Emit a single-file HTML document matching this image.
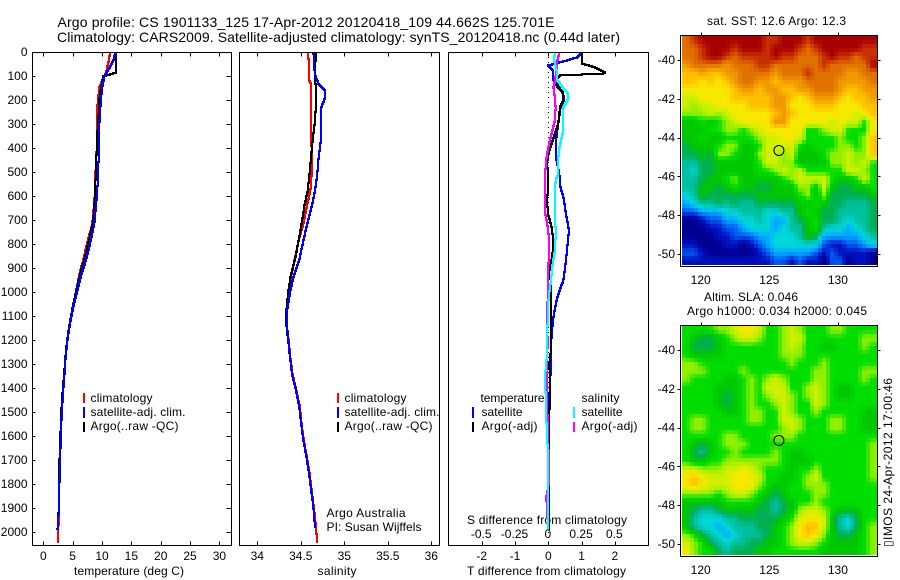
<!DOCTYPE html>
<html>
<head>
<meta charset="utf-8">
<title>Argo profile</title>
<style>
html,body{margin:0;padding:0;background:#fff;}
svg{display:block;}
text{font-family:"Liberation Sans",sans-serif;font-size:12px;fill:#000;}
.title{font-size:14px;}
</style>
</head>
<body>
<svg id="chart" xmlns="http://www.w3.org/2000/svg" width="900" height="580" viewBox="0 0 900 580">
<rect x="0" y="0" width="900" height="580" fill="#fff"/>
<text class="title" x="57.5" y="27" textLength="497" lengthAdjust="spacing">Argo profile: CS 1901133_125 17-Apr-2012 20120418_109 44.662S 125.701E</text>
<text class="title" x="57" y="42" textLength="563" lengthAdjust="spacing">Climatology: CARS2009. Satellite-adjusted climatology: synTS_20120418.nc (0.44d later)</text>

<text x="129" y="575" text-anchor="middle" textLength="110" lengthAdjust="spacing">temperature (deg C)</text>
<text x="337" y="575" text-anchor="middle" textLength="39" lengthAdjust="spacing">salinity</text>
<text x="467" y="575" textLength="159" lengthAdjust="spacing">T difference from climatology</text>
<text x="467" y="524" textLength="160" lengthAdjust="spacing">S difference from climatology</text>

<g>
<rect x="83" y="393" width="2" height="10" fill="#f00"/>
<rect x="83" y="407" width="2" height="11" fill="#00f"/>
<rect x="83" y="422" width="2" height="10" fill="#000"/>
<text x="90.5" y="402" textLength="62" lengthAdjust="spacing">climatology</text>
<text x="90.5" y="416" textLength="95" lengthAdjust="spacing">satellite-adj. clim.</text>
<text x="90.5" y="430" textLength="88" lengthAdjust="spacing">Argo(..raw -QC)</text>
</g>
<g>
<rect x="337" y="393" width="2" height="10" fill="#f00"/>
<rect x="337" y="407" width="2" height="11" fill="#00f"/>
<rect x="337" y="422" width="2" height="10" fill="#000"/>
<text x="344.5" y="402" textLength="62" lengthAdjust="spacing">climatology</text>
<text x="344.5" y="416" textLength="95" lengthAdjust="spacing">satellite-adj. clim.</text>
<text x="344.5" y="430" textLength="88" lengthAdjust="spacing">Argo(..raw -QC)</text>
</g>
<text x="326.5" y="517" textLength="79" lengthAdjust="spacing">Argo Australia</text>
<text x="326.5" y="531" textLength="95" lengthAdjust="spacing">PI: Susan Wijffels</text>

<text x="707" y="25" textLength="139" lengthAdjust="spacing">sat. SST: 12.6 Argo: 12.3</text>
<text x="704" y="301" textLength="94" lengthAdjust="spacing">Altim. SLA: 0.046</text>
<text x="687" y="315" textLength="180" lengthAdjust="spacing">Argo h1000: 0.034 h2000: 0.045</text>
<text transform="translate(892,547) rotate(-90)" x="0" y="0" textLength="169" lengthAdjust="spacing">▯IMOS 24-Apr-2012 17:00:46</text>

<g id="layer"></g>

<g>
<text x="480.5" y="402" textLength="64" lengthAdjust="spacing">temperature</text>
<rect x="472" y="407" width="2" height="11" fill="#00f"/>
<rect x="472" y="422" width="2" height="10" fill="#000"/>
<text x="481.5" y="416" textLength="41" lengthAdjust="spacing">satellite</text>
<text x="481.5" y="430" textLength="56" lengthAdjust="spacing">Argo(-adj)</text>
<text x="581.5" y="402" textLength="38" lengthAdjust="spacing">salinity</text>
<rect x="573" y="407" width="2" height="11" fill="#0ff"/>
<rect x="573" y="422" width="2" height="10" fill="#f0f"/>
<text x="581.5" y="416" textLength="41" lengthAdjust="spacing">satellite</text>
<text x="581.5" y="430" textLength="56" lengthAdjust="spacing">Argo(-adj)</text>
</g>
</svg>
<script>
/* ---------- axis tick values ---------- */
var depthTicks = [0,100,200,300,400,500,600,700,800,900,1000,1100,1200,1300,1400,1500,1600,1700,1800,1900,2000];
var tempTicks = [0,5,10,15,20,25,30];
var salTicks = [34,34.5,35,35.5,36];
var tDiffTicks = [-2,-1,0,1,2];
var sDiffTicks = [-0.5,-0.25,0,0.25,0.5];
var sDiffTickLabels = ["-0.5","-0.25","0","0.25","0.5"];
var lonTicks = [120,125,130];
var latTicks = [-40,-42,-44,-46,-48,-50];
var argoLon = 125.701;
var argoLat = -44.662;

/* ---------- temperature panel ---------- */
var tempClimDepth = [0,30,82,123,150,230,400,533,600,713,783,853,922,992,1061,1131,1200,1270,1340,1410,1500,1600,1700,1800,1900,2000,2045];
var tempClimValue = [11.36,11.2,10.7,9.9,9.5,9.2,9.1,8.8,8.75,8.35,7.6,6.9,6.2,5.6,5,4.5,4.05,3.75,3.55,3.35,3.05,2.9,2.8,2.7,2.67,2.55,2.55];
var tempSatDepth = [0,30,50,100,150,200,300,400,575,713,783,853,922,992,1061,1131,1200,1270,1340,1410,1500,1600,1700,1800,1900,1990];
var tempSatValue = [12.3,12,11.6,10.4,10,9.8,9.55,9.5,9.2,8.7,8.07,7.4,6.55,5.8,5.1,4.55,4.1,3.8,3.6,3.4,3.15,3,2.85,2.75,2.67,2.4];
var tempArgoDepth = [0,82,102,180,340,617,713,783,853,922,992,1061,1131,1200,1270,1340,1410,1500,1600,1700,1800,1900,1990];
var tempArgoValue = [12.45,12.45,10.2,9.6,9.2,8.75,8.45,7.75,7.1,6.3,5.65,5,4.5,4.05,3.75,3.55,3.3,3.05,2.9,2.75,2.65,2.6,2.55];

/* ---------- salinity panel ---------- */
var salClimDepth = [0,117,129,367,437,504,575,642,713,783,861,930,1000,1069,1139,1200,1270,1340,1410,1480,1550,1617,1690,1755,1825,1895,1963,2045];
var salClimValue = [34.587,34.594,34.617,34.62,34.63,34.625,34.61,34.568,34.53,34.475,34.43,34.39,34.365,34.345,34.34,34.36,34.38,34.405,34.45,34.49,34.51,34.535,34.572,34.6,34.625,34.65,34.67,34.69];
var salSatDepth = [0,89,129,158,192,229,367,437,504,575,642,713,783,861,930,1000,1069,1139,1200,1270,1340,1410,1480,1550,1617,1690,1755,1825,1895,1985];
var salSatValue = [34.645,34.66,34.7,34.775,34.775,34.736,34.73,34.705,34.69,34.663,34.625,34.575,34.53,34.483,34.42,34.376,34.345,34.34,34.357,34.376,34.4,34.445,34.483,34.506,34.53,34.568,34.594,34.62,34.645,34.665];
var salArgoDepth = [0,89,158,192,296,367,504,575,642,713,783,861,930,1000,1069,1139,1200,1270,1340,1410,1480,1550,1617,1690,1755,1825,1895,1985];
var salArgoValue = [34.675,34.66,34.675,34.68,34.66,34.636,34.6,34.58,34.54,34.51,34.475,34.433,34.384,34.355,34.335,34.335,34.355,34.376,34.4,34.445,34.483,34.506,34.53,34.568,34.594,34.62,34.645,34.665];

/* ---------- difference panel ---------- */
var diffTSatDepth = [5,19,33,47,54,75,103,130,172,200,228,297,367,436,505,567,602,672,742,811,880,950,980,1019,1089,1158,1228,1297,1367,1436,1506,1575,1644,1990];
var diffTSatValue = [1,0.85,0.55,0.2,0,0.15,0.13,0.2,0.45,0.47,0.37,0.3,0.23,0.23,0.33,0.37,0.45,0.53,0.62,0.57,0.52,0.45,0.37,0.27,0.17,0.11,0.08,0.08,0.06,0.03,0,0.01,0.01,0.01];
var diffTArgoDepth = [5,33,47,61,82,89,96,117,140,172,200,228,297,339,367,410,450,505,567,602,672,700,742,811,880,920,950,1089,1158,1228,1297,1367,1436,1506,1990];
var diffTArgoValue = [1,1,1.02,1.4,1.7,1.65,0.35,0.2,0.3,0.45,0.45,0.35,0.3,0.2,0.13,0.03,-0.03,-0.02,0,-0.03,-0.02,0.05,0.12,0.15,0.08,0.01,0.08,0.08,0.09,0.09,0.03,0.05,0.05,0.03,0.03];
var diffSSatDepth = [0,33,75,117,151,172,192,228,297,339,395,436,505,533,602,672,742,811,880,950,1019,1089,1228,1297,1367,1436,1506,1575,1644,1783,1790,1853,1922,1992];
var diffSSatValue = [0.05,0.043,0.063,0.068,0.113,0.15,0.15,0.113,0.113,0.108,0.083,0.075,0.075,0.055,0.048,0.05,0.055,0.053,0.033,0.02,0.003,-0.005,-0.008,-0.015,-0.028,-0.018,-0.018,-0.01,-0.005,-0.005,0,0,-0.005,-0.005];
var diffSArgoDepth = [0,33,75,117,145,186,228,283,339,395,436,470,533,602,672,700,742,811,865,920,1019,1089,1200,1436,1575,1644,1700,1783,1853,1990];
var diffSArgoValue = [0.083,0.068,0.063,0.05,0.038,0.05,0.055,0.05,0.025,0,-0.013,-0.02,-0.025,-0.023,-0.023,-0.013,0,0.008,0.003,-0.005,-0.003,-0.013,-0.005,-0.013,0,0,0.008,0.008,-0.015,0];

/* ---------- map fields (colour-level per grid node, north to south) ---------- */
var sstLevels = [
[14,15,16,16,16,16,16,16,16,16,15,15,16,16,16,15,16,16,16,16,16,16,16,16],
[14,14,15,16,16,16,15,16,16,16,15,16,16,16,15,14,15,16,16,16,16,16,15,15],
[14,14,15,16,16,15,14,15,15,15,15,16,15,15,14,14,14,15,16,15,15,14,15,15],
[13,14,14,14,14,13,14,14,14,15,15,14,14,14,14,14,14,15,14,14,14,14,14,16],
[12,12,13,12,12,13,13,14,14,14,14,13,14,14,14,15,14,14,14,14,13,13,14,14],
[12,12,11,12,11,12,13,14,14,13,13,12,13,13,13,14,14,14,14,13,13,13,13,14],
[11,11,11,11,11,11,12,13,13,12,13,13,12,12,13,13,14,14,14,13,12,12,13,13],
[10,10,11,11,11,11,12,12,12,12,12,13,13,12,11,12,13,13,13,12,11,12,12,13],
[10,9,10,10,11,11,11,11,12,12,12,13,13,11,11,11,12,12,12,11,11,11,12,12],
[9,9,9,10,9,10,11,11,11,11,11,12,13,12,11,11,11,11,11,11,11,10,11,12],
[7,7,8,7,8,9,10,11,11,11,11,13,13,11,11,11,11,11,10,11,10,10,8,11],
[7,7,7,8,8,9,9,8,9,10,11,11,11,11,11,8,8,9,10,10,8,8,8,11],
[7,7,8,7,7,8,8,8,8,9,10,10,11,11,10,8,8,8,8,9,8,8,9,12],
[6,7,7,7,8,9,9,7,7,8,10,10,10,10,8,7,8,8,8,9,9,8,9,12],
[6,6,7,6,9,9,8,7,7,9,10,10,9,10,7,7,7,8,9,9,10,9,9,12],
[5,5,6,6,7,7,7,7,7,8,10,10,9,9,7,7,7,7,9,9,10,9,10,8],
[5,4,6,6,7,7,7,7,7,8,8,9,10,9,10,8,8,8,8,8,10,10,9,8],
[5,5,6,7,7,8,9,7,7,7,7,7,8,9,10,10,10,10,8,7,7,8,10,8],
[5,5,7,7,6,7,8,7,7,6,6,7,7,7,9,9,7,10,7,6,6,7,7,8],
[4,5,7,6,6,6,6,6,6,7,7,7,7,7,8,9,7,9,6,6,6,6,6,7],
[3,4,5,5,6,5,6,5,5,6,6,6,6,6,7,7,8,7,6,6,5,5,5,6],
[2,2,3,3,3,4,4,5,5,5,4,4,5,5,7,8,7,6,6,5,5,5,5,6],
[0,0,1,2,2,3,3,4,4,5,4,3,3,5,6,7,8,6,6,5,4,5,5,6],
[0,0,0,1,1,2,2,3,4,4,4,3,4,5,5,7,8,5,4,4,3,4,5,6],
[0,0,0,0,1,1,2,2,2,3,3,4,4,4,5,7,6,3,3,3,3,3,4,5],
[1,1,0,0,0,1,1,0,1,2,3,4,4,4,4,4,4,2,1,1,2,2,3,4],
[2,2,1,0,0,0,0,0,0,1,2,3,3,3,3,3,2,1,2,1,1,1,1,0],
[1,1,1,1,1,1,1,1,1,1,1,2,2,1,2,1,1,0,2,2,0,1,1,0]
];
var slaLevels = [
[8,8,8,8,9,9,10,11,11,10,8,8,9,10,9,8,8,8,9,9,8,8,8,8],
[8,7,6,6,7,8,9,10,10,9,8,8,9,10,10,8,8,8,8,8,8,8,9,9],
[8,6,6,6,7,8,8,8,8,8,8,8,9,10,9,8,8,7,7,8,8,8,9,8],
[8,7,7,7,7,8,8,8,8,8,8,8,9,9,9,8,8,8,8,8,8,8,8,8],
[9,9,8,8,8,8,8,8,8,8,8,8,8,9,8,8,8,9,8,8,8,8,8,8],
[9,9,9,8,8,8,8,9,8,8,8,8,8,8,8,8,9,9,8,8,8,8,9,9],
[9,8,8,8,8,7,7,8,9,8,9,10,9,8,8,8,9,9,8,8,8,8,9,8],
[8,8,8,8,7,7,7,8,9,8,10,10,10,8,8,9,10,9,8,7,7,8,8,8],
[8,8,8,8,7,6,7,8,9,8,9,10,10,9,8,9,10,9,8,7,7,8,8,8],
[8,8,8,8,7,6,7,8,9,8,8,9,10,9,8,8,10,9,8,8,8,8,8,8],
[8,8,8,8,8,7,7,8,9,9,8,8,10,9,8,8,9,8,8,8,8,8,7,7],
[8,9,9,8,8,8,8,8,9,9,8,8,10,10,9,8,8,8,9,9,8,8,7,7],
[8,9,9,8,8,8,8,8,8,8,8,8,9,10,9,8,8,8,9,9,8,8,7,7],
[8,8,8,8,8,9,9,8,8,8,8,9,9,9,8,8,8,8,8,8,8,8,8,8],
[8,7,6,7,8,9,9,9,8,8,8,8,8,8,8,8,8,8,8,8,8,8,8,9],
[8,6,5,7,8,8,9,8,8,8,8,9,8,7,7,8,8,8,8,8,8,8,8,9],
[8,7,7,8,8,9,9,9,9,9,9,9,8,7,7,7,8,8,8,8,8,8,8,9],
[10,10,9,9,9,10,10,11,10,9,8,8,8,7,8,8,9,8,8,8,8,8,8,9],
[11,12,11,10,10,10,11,11,11,10,8,8,7,7,8,9,10,8,8,8,8,8,8,9],
[11,12,11,10,10,10,11,11,11,9,8,7,7,8,8,9,9,9,8,8,8,8,8,8],
[9,9,9,9,8,9,10,10,9,8,7,6,7,8,8,8,9,9,8,8,8,8,8,8],
[7,7,7,7,7,8,8,8,8,7,6,5,6,7,8,8,9,8,8,8,8,8,8,8],
[7,6,5,5,6,7,7,7,7,6,6,5,6,7,9,10,10,9,8,7,7,7,8,8],
[7,5,4,4,4,5,5,6,6,6,6,6,7,8,10,11,11,10,7,5,4,6,8,8],
[7,5,4,4,3,4,5,5,5,6,6,7,8,9,11,12,12,10,7,5,4,6,8,9],
[9,8,6,5,4,3,4,5,5,5,6,7,8,9,11,12,11,9,7,6,6,7,8,9],
[10,9,8,6,5,4,5,5,6,6,7,7,8,9,10,10,9,8,7,7,7,7,8,9],
[11,9,8,8,6,5,6,6,6,7,7,8,8,8,8,8,8,7,7,7,7,7,8,9]
];
var mapColors = ["#000090","#0010c0","#0058f0","#00a8ff","#00d8d8","#00c0a0","#00b050","#00c800","#00de00","#90f000","#d0f000","#f8e800","#ffc000","#f09800","#e07000","#c83000","#a80000"];

/* ---------- drawing ---------- */
var NS = "http://www.w3.org/2000/svg";
var layer = document.getElementById("layer");

function mk(tag, parent, attrs) {
  var e = document.createElementNS(NS, tag);
  for (var k in attrs) e.setAttribute(k, attrs[k]);
  parent.appendChild(e);
  return e;
}
function depthY(d) { return 52 + 0.24 * d; }
function tempX(t) { return 43.3 + 5.87 * t; }
function salX(s) { return 257.3 + 87 * (s - 34); }
function tDiffX(v) { return 548.3 + 33.3 * v; }
function sDiffX(v) { return 548.3 + 133.2 * v; }
function lonX(l) { return 700.7 + 13.72 * (l - 120); }
function sstLatY(l) { return 60 + 19.4 * (-40 - l); }
function slaLatY(l) { return 350 + 19.4 * (-40 - l); }

function drawBox(name, x1, x2, y1, y2) {
  var r = mk("rect", layer, {x:x1, y:y1, width:x2-x1, height:y2-y1, fill:"none", stroke:"#000", "stroke-width":1, "shape-rendering":"crispEdges"});
  
  
}
function drawTick(name, x1, y1, x2, y2) {
  var l = mk("line", layer, {x1:Math.round(x1)+0.5, y1:Math.round(y1)+0.5, x2:Math.round(x2)+0.5, y2:Math.round(y2)+0.5, stroke:"#000", "stroke-width":1, "shape-rendering":"crispEdges"});
  
  
}
function drawLabel(name, str, x, y, anchor) {
  var t = mk("text", layer, {x:x, y:y, "text-anchor":anchor});
  t.textContent = str;
  
  
}
/* Series are rasterised as pixel stair-steps, like the bitmap plot they imitate. */
function drawSeries(name, values, depths, xFn, color) {
  var d = "";
  for (var i = 0; i < values.length - 1; i++) {
    var y1 = depthY(depths[i]), y2 = depthY(depths[i + 1]);
    var x1 = xFn(values[i]), x2 = xFn(values[i + 1]);
    var ya = Math.round(y1), yb = Math.round(y2);
    if (i === 0) d += "M" + Math.round(x1) + " " + ya;
    for (var y = ya + 1; y <= yb; y++) {
      var f = yb === ya ? 1 : (y - ya) / (yb - ya);
      d += "V" + y + "H" + Math.round(x1 + (x2 - x1) * f);
    }
  }
  var p = mk("path", layer, {d:d, fill:"none", stroke:color, "stroke-width":2, "shape-rendering":"crispEdges"});
  
  
}
function parseHex(h) {
  return [parseInt(h.substr(1,2),16), parseInt(h.substr(3,2),16), parseInt(h.substr(5,2),16)];
}
var parsedColors = mapColors.map(parseHex);
function levelColor(v) {
  var i = Math.min(Math.floor(v), parsedColors.length - 2);
  var f = v - i, a = parsedColors[i], b = parsedColors[i + 1];
  return "rgb(" + Math.round(a[0]+(b[0]-a[0])*f) + "," + Math.round(a[1]+(b[1]-a[1])*f) + "," + Math.round(a[2]+(b[2]-a[2])*f) + ")";
}
function sampleField(levels, r, c) {
  r = Math.max(0, Math.min(levels.length - 1, r));
  c = Math.max(0, Math.min(levels[0].length - 1, c));
  var r0 = Math.floor(r), c0 = Math.floor(c);
  var r1 = Math.min(r0 + 1, levels.length - 1), c1 = Math.min(c0 + 1, levels[0].length - 1);
  var fr = r - r0, fc = c - c0;
  var top = levels[r0][c0] * (1 - fc) + levels[r0][c1] * fc;
  var bot = levels[r1][c0] * (1 - fc) + levels[r1][c1] * fc;
  return top * (1 - fr) + bot * fr;
}
function drawField(name, levels, topY, bottomY) {
  var g = mk("g", layer, {"shape-rendering":"crispEdges"});
  
  
  var left = 682, right = 877, step = 4;
  for (var y = topY; y < bottomY; y += step) {
    for (var x = left; x < right; x += step) {
      var c = ((x + step / 2 - left) / (right - left)) * levels[0].length - 0.5;
      var r = ((y + step / 2 - topY) / (bottomY - topY)) * levels.length - 0.5;
      var cell = mk("rect", g, {x:x, y:y, width:Math.min(step, right - x), height:Math.min(step, bottomY - y), fill:levelColor(sampleField(levels, r, c))});
      
      
    }
  }
}

/* series */
drawSeries("temperature-climatology-line", tempClimValue, tempClimDepth, tempX, "#f00");
drawSeries("temperature-argo-line", tempArgoValue, tempArgoDepth, tempX, "#000");
drawSeries("temperature-satellite-line", tempSatValue, tempSatDepth, tempX, "#00f");
drawSeries("salinity-climatology-line", salClimValue, salClimDepth, salX, "#f00");
drawSeries("salinity-argo-line", salArgoValue, salArgoDepth, salX, "#000");
drawSeries("salinity-satellite-line", salSatValue, salSatDepth, salX, "#00f");

var zeroLine = mk("line", layer, {x1:548.5, y1:52, x2:548.5, y2:545, stroke:"#000", "stroke-width":1, "stroke-dasharray":"1 4", "shape-rendering":"crispEdges"});


drawSeries("t-diff-satellite-line", diffTSatValue, diffTSatDepth, tDiffX, "#00f");
drawSeries("t-diff-argo-line", diffTArgoValue, diffTArgoDepth, tDiffX, "#000");
drawSeries("s-diff-argo-line", diffSArgoValue, diffSArgoDepth, sDiffX, "#f0f");
drawSeries("s-diff-satellite-line", diffSSatValue, diffSSatDepth, sDiffX, "#0ff");

/* panel frames */
drawBox("temperature-panel-frame", 32.5, 231.5, 52.5, 545.5);
drawBox("salinity-panel-frame", 239.5, 439.5, 52.5, 545.5);
drawBox("difference-panel-frame", 448.5, 648.5, 52.5, 545.5);

/* depth ticks */
depthTicks.forEach(function (d) {
  var y = depthY(d);
  drawTick("depth-tick", 32, y, 35, y);
  drawTick("depth-tick", 226, y, 231, y);
  drawLabel("depth-tick-label", String(d), 27.5, y + 4, "end");
});
tempTicks.forEach(function (t) {
  var x = tempX(t);
  drawTick("temperature-tick", x, 52, x, 56);
  drawTick("temperature-tick", x, 541, x, 545);
  drawLabel("temperature-tick-label", String(t), x, 560, "middle");
});
salTicks.forEach(function (s) {
  var x = salX(s);
  drawTick("salinity-tick", x, 52, x, 56);
  drawTick("salinity-tick", x, 541, x, 545);
  drawLabel("salinity-tick-label", String(s), x, 560, "middle");
});
tDiffTicks.forEach(function (v) {
  var x = tDiffX(v);
  drawTick("t-difference-tick", x, 52, x, 56);
  drawTick("t-difference-tick", x, 541, x, 545);
  drawLabel("t-difference-tick-label", String(v), x, 560, "middle");
});
sDiffTicks.forEach(function (v, i) {
  drawLabel("s-difference-tick-label", sDiffTickLabels[i], sDiffX(v) - 0.5, 538, "middle");
});

/* maps */
function drawMap(prefix, levels, latFn, top, bottom, xLabelY) {
  drawField(prefix + "-heatmap", levels, top + 1, bottom - 1);
  drawBox(prefix + "-map-frame", 680.5, 877.5, top + 0.5, bottom + 0.5);
  lonTicks.forEach(function (l) {
    var x = lonX(l);
    drawTick(prefix + "-lon-tick", x, top - 3, x, top);
    drawLabel(prefix + "-lon-tick-label", String(l), x, xLabelY, "middle");
  });
  latTicks.forEach(function (l) {
    var y = latFn(l);
    drawTick(prefix + "-lat-tick", 677, y, 680, y);
    drawTick(prefix + "-lat-tick", 877, y, 880, y);
    drawLabel(prefix + "-lat-tick-label", String(l), 675, y + 4, "end");
  });
  var m = mk("circle", layer, {cx:lonX(argoLon), cy:latFn(argoLat), r:5, fill:"none", stroke:"#000", "stroke-width":1});
  
  
}
drawMap("sst", sstLevels, sstLatY, 35, 266, 284);
drawMap("sla", slaLevels, slaLatY, 325, 556, 574);
</script>
</body>
</html>
